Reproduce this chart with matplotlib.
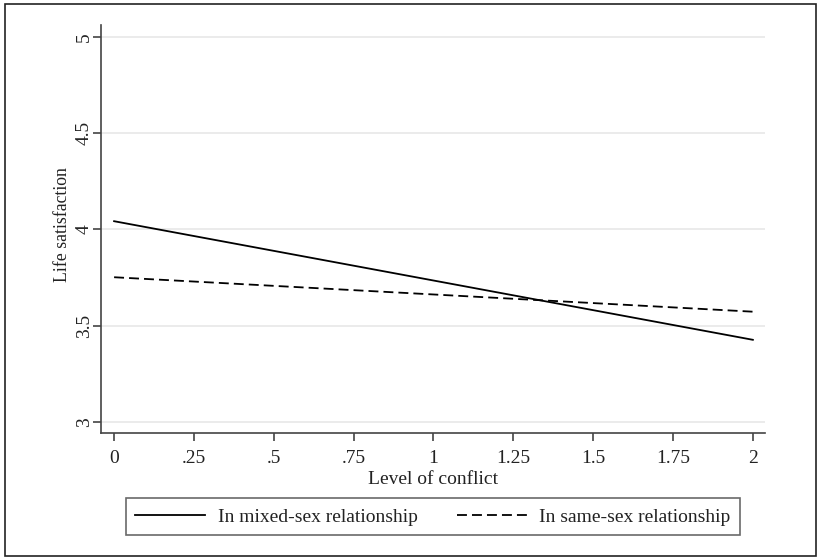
import matplotlib.pyplot as plt
from matplotlib.patches import Rectangle

plt.rcParams['font.family'] = ['Liberation Serif', 'DejaVu Serif']

# 数据
conflict = [0, 2]
mixed_sex = [4.043, 3.427]
same_sex = [3.752, 3.573]

x_ticks = [0, 0.25, 0.5, 0.75, 1, 1.25, 1.5, 1.75, 2]
x_tick_labels = ['0', '.25', '.5', '.75', '1', '1.25', '1.5', '1.75', '2']
y_ticks = [3, 3.5, 4, 4.5, 5]
y_tick_labels = ['3', '3.5', '4', '4.5', '5']

fig = plt.figure(figsize=(8.19, 5.58), dpi=100)
ax = fig.add_axes([101 / 819, 1 - 433 / 558, (765 - 101) / 819, (433 - 25) / 558])

# 外框
fig.patches.append(Rectangle((5 / 819, 2 / 558), 811 / 819, 552 / 558,
                             transform=fig.transFigure, fill=False,
                             edgecolor='#222222', linewidth=1.2))

ax.plot(conflict, mixed_sex, color='black', linewidth=1.3, label='In mixed-sex relationship')
ax.plot(conflict, same_sex, color='black', linewidth=1.3, linestyle=(0, (5.5, 2.8)),
        label='In same-sex relationship')

ax.set_xlim(-0.041, 2.038)
ax.set_ylim(2.943, 5.062)
ax.set_xticks(x_ticks)
ax.set_xticklabels(x_tick_labels)
ax.set_yticks(y_ticks)
ax.set_yticklabels(y_tick_labels, rotation=90, va='center')

ax.grid(True, axis='y', color='#e8e8e8', linewidth=1.2)
ax.set_axisbelow(True)
for side in ['top', 'right']:
    ax.spines[side].set_visible(False)
for side in ['left', 'bottom']:
    ax.spines[side].set_color('#444444')
    ax.spines[side].set_linewidth(1.2)
ax.tick_params(direction='out', length=6, width=1.2, color='#444444',
               labelsize=14, labelcolor='#222222')
ax.tick_params(axis='x', pad=6)
ax.tick_params(axis='y', pad=0)

ax.set_xlabel('Level of conflict', fontsize=14, color='#222222', labelpad=3)
ax.set_ylabel('Life satisfaction', fontsize=12.8, color='#222222', labelpad=3.5)
ax.yaxis.label.set_y((229 - 25 + 4) / 408)

leg = ax.legend(loc='upper center', bbox_to_anchor=(0.5, -0.16), ncol=2,
                fontsize=14, frameon=True, fancybox=False, handlelength=3.6,
                handletextpad=0.65, columnspacing=2.0, borderpad=0.5,
                borderaxespad=0, labelcolor='#222222')
leg.get_frame().set_edgecolor('#444444')
leg.get_frame().set_linewidth(1.2)

fig.savefig('out.png', dpi=100)
